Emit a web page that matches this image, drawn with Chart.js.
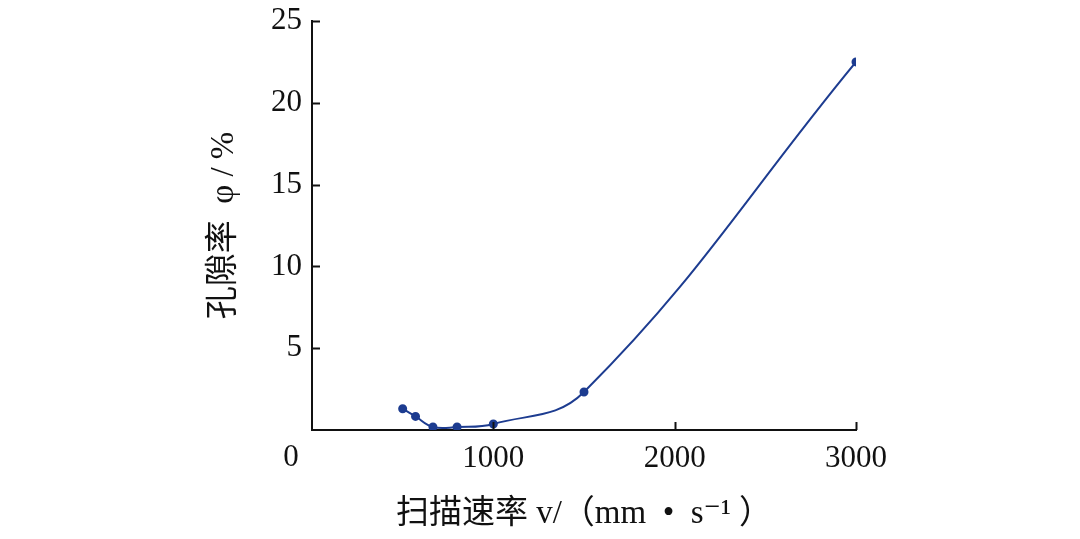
<!DOCTYPE html>
<html>
<head>
<meta charset="utf-8">
<script src="https://cdn.jsdelivr.net/npm/chart.js@4/dist/chart.umd.min.js"></script>
<style>
  html,body{margin:0;padding:0;background:#fff;}
  canvas{display:block;}
</style>
</head>
<body>
<canvas id="chPorosity" width="1080" height="539"></canvas>
<script>
// scan speed vs porosity
const speeds   = [500, 571, 667, 800, 1000, 1500, 3000];
const porosity = [1.3, 0.83, 0.18, 0.18, 0.37, 2.32, 22.5];
const xTicks = [0, 1000, 2000, 3000];
const yTicks = [0, 5, 10, 15, 20, 25];

const serif = "'Liberation Serif', 'DejaVu Serif', 'Noto Sans CJK SC', serif";
const tickFont = {family: serif, size: 31};
const titleFont = {family: serif, size: 33};

// inward tick marks + shared origin label
const inwardTicks = {
  id: 'inwardTicks',
  afterDraw(chart){
    const {ctx, scales:{x, y}} = chart;
    ctx.save();
    ctx.strokeStyle = '#111';
    ctx.lineWidth = 2;
    yTicks.filter(v => v > 0).forEach(v => {
      const py = Math.round(y.getPixelForValue(v)) + 0.5;
      ctx.beginPath(); ctx.moveTo(x.left, py); ctx.lineTo(x.left + 8, py); ctx.stroke();
    });
    xTicks.filter(v => v > 0).forEach(v => {
      const px = Math.round(x.getPixelForValue(v)) + 0.5;
      ctx.beginPath(); ctx.moveTo(px, y.bottom); ctx.lineTo(px, y.bottom - 8); ctx.stroke();
    });
    ctx.fillStyle = '#111';
    ctx.font = tickFont.size + 'px ' + serif;
    ctx.textAlign = 'center';
    ctx.textBaseline = 'middle';
    ctx.fillText('0', x.left - 21, y.bottom + 28);
    ctx.restore();
  }
};

new Chart(document.getElementById('chPorosity'), {
  type: 'line',
  data: {
    datasets: [{
      data: speeds.map((s, i) => ({x: s, y: porosity[i]})),
      borderColor: '#1d3c90',
      backgroundColor: '#1d3c90',
      borderWidth: 2,
      pointRadius: 3.5,
      pointHoverRadius: 3.5,
      tension: 0.4,
      fill: false
    }]
  },
  options: {
    responsive: false,
    animation: false,
    layout: {padding: {left: 205, right: 224, top: 21, bottom: 5}},
    plugins: {legend: {display: false}, tooltip: {enabled: false}},
    scales: {
      x: {
        type: 'linear', min: 0, max: 3000,
        afterFit(s){ s.height = 104; s.paddingLeft = 0; s.paddingRight = 0; },
        afterBuildTicks(s){ s.ticks = xTicks.map(v => ({value: v})); },
        grid: {display: true, drawOnChartArea: false, drawTicks: false},
        border: {color: '#111', width: 2},
        ticks: {font: tickFont, color: '#111', padding: 10, maxRotation: 0,
                callback: v => v === 0 ? '' : v},
        title: {display: true, text: '扫描速率 v/（mm  •  s⁻¹ ）', font: titleFont, color: '#111', padding: 0}
      },
      y: {
        min: 0, max: 25,
        afterFit(s){ s.width = 107; s.paddingTop = 0; s.paddingBottom = 0; },
        afterBuildTicks(s){ s.ticks = yTicks.map(v => ({value: v})); },
        grid: {display: true, drawOnChartArea: false, drawTicks: false},
        border: {color: '#111', width: 2},
        ticks: {font: tickFont, color: '#111', padding: 10,
                callback: v => v === 0 ? '' : v},
        title: {display: true, text: '孔隙率  φ / %', font: titleFont, color: '#111', padding: 0}
      }
    }
  },
  plugins: [inwardTicks]
});
</script>
</body>
</html>
